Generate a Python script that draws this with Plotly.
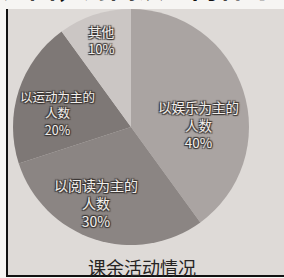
import plotly.graph_objects as go

# Data
labels = ["以娱乐为主的人数", "以阅读为主的人数", "以运动为主的人数", "其他"]
label_lines = [["以娱乐为主的", "人数"], ["以阅读为主的", "人数"], ["以运动为主的", "人数"], ["其他"]]
values = [40, 30, 20, 10]
colors = ["#aaa4a2", "#8b8583", "#7e7876", "#cbc6c4"]
title_text = "课余活动情况"
top_text = "列图，对阅读的内容可"

W, H = 284, 278

fig = go.Figure()
fig.add_trace(go.Pie(
    labels=labels,
    values=values,
    sort=False,
    direction="clockwise",
    rotation=0,
    marker=dict(colors=colors, line=dict(width=0)),
    textinfo="none",
    hoverinfo="label+percent",
    showlegend=False,
    domain=dict(x=[13 / W, 249 / W], y=[33 / H, 269 / H]),
))

# label block centers (pixels) and font sizes
label_pos = [(198, 124), (96, 203), (57, 113), (101, 40)]
label_size = [13.5, 14, 12.5, 13]

shadow = ("1px 1px 1px #3a3533, -1px -1px 1px #3a3533, "
          "1px -1px 1px #3a3533, -1px 1px 1px #3a3533")

annotations = []
for lines, v, (px, py), fs in zip(label_lines, values, label_pos, label_size):
    txt = "<br>".join(lines + [f"{v}%"])
    annotations.append(dict(
        x=px / W, y=1 - py / H, xref="paper", yref="paper",
        text=txt, showarrow=False, xanchor="center", yanchor="middle",
        align="center",
        font=dict(family="Noto Sans CJK SC", size=fs, color="#f2efec",
                  shadow=shadow),
    ))

annotations.append(dict(
    x=142 / W, y=1 - 267 / H, xref="paper", yref="paper", text=title_text,
    showarrow=False, xanchor="center", yanchor="middle",
    font=dict(family="Noto Sans CJK SC", size=18, color="#262322"),
))
annotations.append(dict(
    x=0 / W, y=1 - 8 / H, xref="paper", yref="paper", text=top_text,
    showarrow=False, xanchor="left", yanchor="bottom",
    font=dict(family="Noto Sans CJK SC", size=27, color="#111111", weight="bold"),
))

shapes = [
    dict(type="rect", xref="paper", yref="paper", x0=7 / W, x1=1, y0=1 - 276 / H, y1=1 - 9 / H,
         fillcolor="#dedad7", line=dict(width=0), layer="below"),
    dict(type="line", xref="paper", yref="paper", x0=7 / W, x1=7 / W, y0=1 - 277 / H, y1=1 - 9 / H,
         line=dict(color="#111111", width=2), layer="above"),
    dict(type="line", xref="paper", yref="paper", x0=7 / W, x1=1, y0=1 - 276 / H, y1=1 - 276 / H,
         line=dict(color="#111111", width=2), layer="above"),
]

fig.update_layout(
    width=W, height=H,
    margin=dict(l=0, r=0, t=0, b=0),
    paper_bgcolor="#f6f5f3",
    plot_bgcolor="rgba(0,0,0,0)",
    annotations=annotations,
    shapes=shapes,
)

fig.write_html(
    "out.html",
    config={"displayModeBar": False},
    post_script="document.body.style.margin='0px';document.body.style.overflow='hidden';",
)
